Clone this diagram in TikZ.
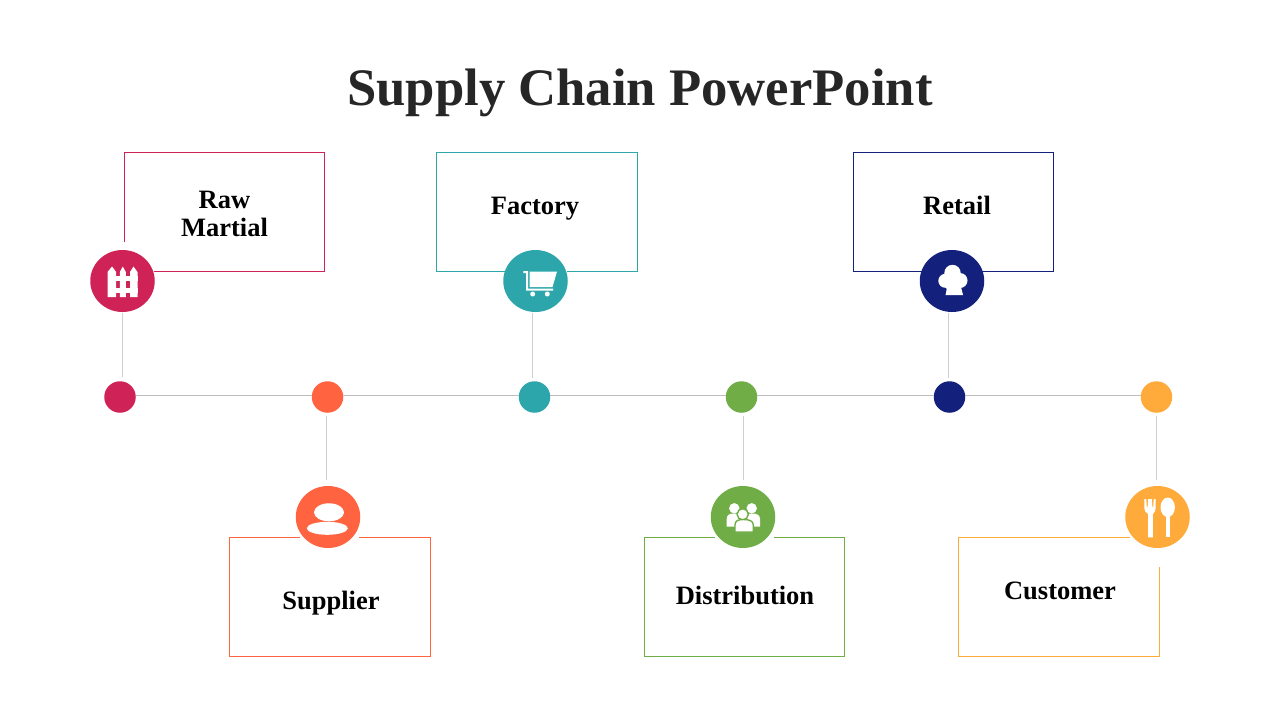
\documentclass[tikz,border=0pt]{standalone}
\usepackage{xcolor}
\usepackage{fontspec}
\setmainfont{Liberation Serif}
\usetikzlibrary{calc, positioning, shapes.geometric}
\definecolor{rawred}{HTML}{CF2257}
\definecolor{supplierorange}{HTML}{FF6340}
\definecolor{factoryteal}{HTML}{2CA6AA}
\definecolor{distgreen}{HTML}{70AD47}
\definecolor{retailnavy}{HTML}{14217C}
\definecolor{customeramber}{HTML}{FFAB3B}
\definecolor{titlegrey}{HTML}{262626}
\definecolor{linegrey}{HTML}{BDBDBD}
\definecolor{stemgrey}{HTML}{CFCFCF}
\tikzset{
  iconnode/.style={ellipse, inner sep=0pt, minimum width=64.5pt, minimum height=62pt},
  dotnode/.style={circle, inner sep=0pt, minimum size=31.5pt},
  boxnode/.style={inner sep=0pt, minimum width=200pt, minimum height=119pt},
  labelnode/.style={align=center, font=\bfseries\fontsize{26.5}{28}\selectfont, text=black},
  mainline/.style={draw=linegrey, line width=1pt},
  stem/.style={draw=stemgrey, line width=1pt},
  outline/.style={line width=1pt}
}
\begin{document}
\begin{tikzpicture}[x=1pt, y=-1pt]
  \useasboundingbox (0,0) rectangle (1280,720);
  % nodes %
  \node[font=\bfseries\fontsize{52.7}{54}\selectfont, text=titlegrey] (title) at (640,93) {Supply Chain PowerPoint};

  \node[boxnode] (rawbox) at (224.5,212) {};
  \node[boxnode, minimum width=201pt] (factorybox) at (537,212) {};
  \node[boxnode] (retailbox) at (953.5,212) {};
  \node[boxnode, minimum width=201pt] (supplierbox) at (330,597) {};
  \node[boxnode] (distbox) at (744.5,597) {};
  \node[boxnode, minimum width=201pt] (customerbox) at (1059,597) {};

  \node[labelnode] (rawlabel) at (224.5,214) {Raw\\Martial};
  \node[labelnode] (factorylabel) at (535,209) {Factory};
  \node[labelnode] (retaillabel) at (957,205) {Retail};
  \node[labelnode] (supplierlabel) at (331,603) {Supplier};
  \node[labelnode] (distlabel) at (745,595) {Distribution};
  \node[labelnode] (customerlabel) at (1060,591) {Customer};

  \node[iconnode, fill=rawred] (rawicon) at (122.5,281) {};
  \node[iconnode, fill=factoryteal] (factoryicon) at (535.5,281) {};
  \node[iconnode, fill=retailnavy] (retailicon) at (952,281) {};
  \node[iconnode, fill=supplierorange] (suppliericon) at (328,517) {};
  \node[iconnode, fill=distgreen] (disticon) at (743,517) {};
  \node[iconnode, fill=customeramber] (customericon) at (1157.5,517) {};

  \node[dotnode, fill=rawred] (rawdot) at (120,397) {};
  \node[dotnode, fill=supplierorange] (supplierdot) at (327.5,397) {};
  \node[dotnode, fill=factoryteal] (factorydot) at (534.5,397) {};
  \node[dotnode, fill=distgreen] (distdot) at (741.5,397) {};
  \node[dotnode, fill=retailnavy] (retaildot) at (949.5,397) {};
  \node[dotnode, fill=customeramber] (customerdot) at (1156.5,397) {};

  % box outlines %
  \draw[outline, draw=rawred] ($(rawbox.south west)+(0,-29.5)$) -- (rawbox.north west) -- (rawbox.north east) -- (rawbox.south east) -- ($(rawbox.south west)+(29.5,0)$);
  \draw[outline, draw=factoryteal] ($(factorybox.south west)+(68.5,0)$) -- (factorybox.south west) -- (factorybox.north west) -- (factorybox.north east) -- (factorybox.south east) -- ($(factorybox.south east)+(-70.5,0)$);
  \draw[outline, draw=retailnavy] ($(retailbox.south west)+(68.5,0)$) -- (retailbox.south west) -- (retailbox.north west) -- (retailbox.north east) -- (retailbox.south east) -- ($(retailbox.south east)+(-71.5,0)$);
  \draw[outline, draw=supplierorange] ($(supplierbox.north west)+(70.5,0)$) -- (supplierbox.north west) -- (supplierbox.south west) -- (supplierbox.south east) -- (supplierbox.north east) -- ($(supplierbox.north east)+(-71.5,0)$);
  \draw[outline, draw=distgreen] ($(distbox.north west)+(70.5,0)$) -- (distbox.north west) -- (distbox.south west) -- (distbox.south east) -- (distbox.north east) -- ($(distbox.north east)+(-70.5,0)$);
  \draw[outline, draw=customeramber] ($(customerbox.north west)+(171.5,0)$) -- (customerbox.north west) -- (customerbox.south west) -- (customerbox.south east) -- ($(customerbox.north east)+(0,29.5)$);

  % edges %
  \draw[mainline] ($(rawdot.east)+(0,-1.5)$) -- ($(supplierdot.west)+(0,-1.5)$);
  \draw[mainline] ($(supplierdot.east)+(0,-1.5)$) -- ($(factorydot.west)+(0,-1.5)$);
  \draw[mainline] ($(factorydot.east)+(0,-1.5)$) -- ($(distdot.west)+(0,-1.5)$);
  \draw[mainline] ($(distdot.east)+(0,-1.5)$) -- ($(retaildot.west)+(0,-1.5)$);
  \draw[mainline] ($(retaildot.east)+(0,-1.5)$) -- ($(customerdot.west)+(0,-1.5)$);
  \draw[stem, shorten <=1pt] (rawicon.south) -- ($(rawicon.south |- rawdot.north)+(0,-4)$);
  \draw[stem, shorten <=1pt] ($(factoryicon.south)+(-3,0)$) -- ($(factoryicon.south |- factorydot.north)+(-3,-3)$);
  \draw[stem, shorten <=1pt] ($(retailicon.south)+(-3.5,0)$) -- ($(retailicon.south |- retaildot.north)+(-3.5,-3)$);
  \draw[stem, shorten <=3pt] ($(supplierdot.south)+(-1.5,0)$) -- ($(supplierdot.south |- suppliericon.north)+(-1.5,-6)$);
  \draw[stem, shorten <=3pt] ($(distdot.south)+(2,0)$) -- ($(distdot.south |- disticon.north)+(2,-6)$);
  \draw[stem, shorten <=3pt] (customerdot.south) -- ($(customerdot.south |- customericon.north)+(0,-6)$);

  % fence %
  \fill[white] (107.5,297) -- (107.5,272) -- (112,266.5) -- (116.2,272) -- (116.2,297) -- cycle;
  \fill[white] (119.8,297) -- (119.8,272) -- (122.8,266.5) -- (125.8,272) -- (125.8,297) -- cycle;
  \fill[white] (130,297) -- (130,272) -- (133.5,266.5) -- (137.5,272) -- (137.5,297) -- cycle;
  \fill[white] (107.5,275.5) rectangle (137.5,281);
  \fill[white] (107.5,288) rectangle (137.5,293);

  % cart %
  \fill[white] (523.3,271) -- (528,271) -- (528,288.5) -- (553,288.5) -- (553,290.5) -- (526,290.5) -- (526,273) -- (523.3,273) -- cycle;
  \fill[white] (529.5,271.5) -- (557,271.5) -- (552.5,287) -- (529.5,287) -- cycle;
  \fill[white] (532.7,294) circle (2.5);
  \fill[white] (547.3,294) circle (2.5);

  % cloud %
  \fill[white] (952.5,273) circle (8.2);
  \fill[white] (945.3,280.8) circle (7);
  \fill[white] (960,280.5) circle (7.5);
  \fill[white] (953,285) circle (7.5);
  \fill[white] (947,287) -- (961,287) -- (962.5,293) -- (963,295) -- (945.5,295) -- (946,293) -- cycle;

  % supplier shape %
  \fill[white] (329,512.3) ellipse (15 and 9);
  \fill[white] (327.3,528.3) ellipse (20.5 and 6.5);

  % people %
  \fill[white] (734.3,508.3) circle (5.2);
  \fill[white] (751.7,508.3) circle (5.2);
  \fill[white] (726.7,526.7) -- (726.7,519) .. controls (726.7,514.5) and (730,513.5) .. (734,513.5) .. controls (738,513.5) and (741,515) .. (741,519) -- (741,526.7) -- cycle;
  \fill[white] (745,526.7) -- (745,519) .. controls (745,515) and (748,513.5) .. (752,513.5) .. controls (756,513.5) and (760,514.5) .. (760,519) -- (760,526.7) -- cycle;
  \filldraw[fill=white, draw=distgreen, line width=1.4pt] (742.7,514.3) circle (5.6);
  \filldraw[fill=white, draw=distgreen, line width=1.4pt] (735,532) -- (735,525) .. controls (735,520.5) and (738.5,519.5) .. (743.5,519.5) .. controls (748.5,519.5) and (753.3,520.5) .. (753.3,525) -- (753.3,532) -- cycle;

  % fork and spoon %
  \fill[white] (1144.3,499) -- (1146.3,499) -- (1146.8,507) -- (1147.6,507) -- (1148.2,499) -- (1151.8,499) -- (1152.4,507) -- (1153.2,507) -- (1153.7,499) -- (1155.7,499) -- (1155.7,507) .. controls (1155.7,511) and (1154,513) .. (1152.9,514) -- (1152.9,537.3) -- (1148.1,537.3) -- (1148.1,514) .. controls (1146,513) and (1144.3,511) .. (1144.3,507) -- cycle;
  \fill[white] (1167.7,507.3) ellipse (7.2 and 9.8);
  \fill[white] (1165.6,512) rectangle (1170,537.3);
\end{tikzpicture}
\end{document}
